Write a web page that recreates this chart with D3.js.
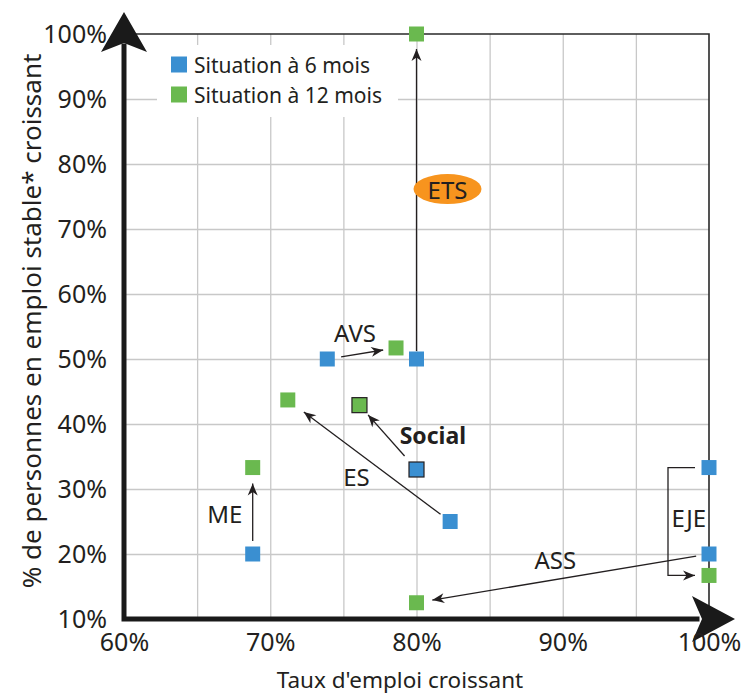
<!DOCTYPE html>
<html><head><meta charset="utf-8">
<script src="https://cdn.jsdelivr.net/npm/d3@7"></script>
<style>
body{margin:0;background:#fff}
text{font-family:"Noto Sans",sans-serif;fill:#231f20}
</style>
</head><body>
<svg id="c" width="744" height="695"></svg>
<script>
// ---- data ----
const categories = ["AVS","ETS","ES","ME","EJE","ASS","Social"];
const x6  = [0.739, 0.800, 0.823, 0.688, 1.000, 1.000, 0.800];
const y6  = [0.500, 0.500, 0.250, 0.200, 0.333, 0.200, 0.330];
const x12 = [0.786, 0.800, 0.712, 0.688, 1.000, 0.800, 0.761];
const y12 = [0.517, 1.000, 0.437, 0.333, 0.167, 0.125, 0.429];
const labelX = [0.758, 0.8212, 0.7589, 0.669, 0.9862, 0.8949, 0.8112];
const labelY = [0.5415, 0.7615, 0.3185, 0.2626, 0.2557, 0.1915, 0.3838];
const seriesNames = ["Situation à 6 mois", "Situation à 12 mois"];
const xTicks = [0.6, 0.7, 0.8, 0.9, 1.0];
const yTicks = [0.1, 0.2, 0.3, 0.4, 0.5, 0.6, 0.7, 0.8, 0.9, 1.0];
const xGrid = [0.65, 0.7, 0.75, 0.8, 0.85, 0.9, 0.95];
const yGrid = [0.2, 0.3, 0.4, 0.5, 0.6, 0.7, 0.8, 0.9];
const xTitle = "Taux d'emploi croissant";
const yTitle = "% de personnes en emploi stable* croissant";

// ---- layout / style ----
const L = 124, R = 709, T = 34, B = 619;
const BLUE = "#3a8fd1", GREEN = "#6ab94f", INK = "#231f20", GRID = "#c8c8c8";
const SZ = 15;
const x = d3.scaleLinear().domain([0.6, 1.0]).range([L, R]);
const y = d3.scaleLinear().domain([0.1, 1.0]).range([B, T]);
const svg = d3.select("#c");
const fmt = d3.format(".0%");

// arrowhead marker
const defs = svg.append("defs");
defs.append("marker").attr("id","ah").attr("markerUnits","userSpaceOnUse")
  .attr("viewBox","-13 -6 14 12").attr("refX",0).attr("refY",0)
  .attr("markerWidth",14).attr("markerHeight",12).attr("orient","auto")
  .append("path").attr("d","M0,0 L-12,-5 L-8.5,0 L-12,5 Z").attr("fill",INK);

// grid
svg.append("g").attr("transform",`translate(0,${B})`)
  .call(d3.axisBottom(x).tickValues(xGrid).tickSize(-(B-T)).tickFormat(""))
  .call(g=>g.select(".domain").remove())
  .call(g=>g.selectAll("line").attr("stroke",GRID).attr("stroke-width",1.3));
svg.append("g").attr("transform",`translate(${L},0)`)
  .call(d3.axisLeft(y).tickValues(yGrid).tickSize(-(R-L)).tickFormat(""))
  .call(g=>g.select(".domain").remove())
  .call(g=>g.selectAll("line").attr("stroke",GRID).attr("stroke-width",1.3));

// legend background (hides gridlines)
svg.append("rect").attr("x",157).attr("y",45).attr("width",241).attr("height",72).attr("fill","#fff");

// top / right border
svg.append("path").attr("d",`M${L},${T}H${R}V${B}`).attr("fill","none")
  .attr("stroke","#2a2a2a").attr("stroke-width",1.6);

// arrows
const gaps = {AVS:[14,13],ETS:[8,15],ES:[12,20],ME:[13,16],ASS:[13,16],Social:[18,13]};
const ag = svg.append("g");
categories.forEach((c,i)=>{
  const sx=x(x6[i]), sy=y(y6[i]), tx=x(x12[i]), ty=y(y12[i]);
  if(c==="EJE"){
    const off=14, bx=x(x6[i])-41;
    ag.append("path").attr("d",`M${sx-off},${sy}H${bx}V${ty}H${tx-off}`)
      .attr("fill","none").attr("stroke",INK).attr("stroke-width",1.3).attr("marker-end","url(#ah)");
    return;
  }
  const g=gaps[c], dx=tx-sx, dy=ty-sy, d=Math.hypot(dx,dy), ux=dx/d, uy=dy/d;
  ag.append("line")
    .attr("x1",sx+ux*g[0]).attr("y1",sy+uy*g[0])
    .attr("x2",tx-ux*g[1]).attr("y2",ty-uy*g[1])
    .attr("stroke",INK).attr("stroke-width",1.3).attr("marker-end","url(#ah)");
});

// ETS ellipse label
const iE = categories.indexOf("ETS");
svg.append("ellipse").attr("cx",x(labelX[iE])).attr("cy",y(labelY[iE]))
  .attr("rx",34).attr("ry",15).attr("fill","#f7941e");

// markers
function squares(xs, ys, color){
  svg.append("g").selectAll("rect").data(categories).join("rect")
    .attr("x",(d,i)=>x(xs[i])-SZ/2).attr("y",(d,i)=>y(ys[i])-SZ/2)
    .attr("width",SZ).attr("height",SZ).attr("fill",color)
    .attr("stroke",d=>d==="Social"?INK:"none").attr("stroke-width",1.2);
}
squares(x6,y6,BLUE);
squares(x12,y12,GREEN);

// annotation labels
svg.append("g").selectAll("text").data(categories).join("text")
  .attr("x",(d,i)=>x(labelX[i])).attr("y",(d,i)=>y(labelY[i]))
  .attr("text-anchor","middle").attr("dominant-baseline","central")
  .attr("font-size",d=>d==="Social"?23:24).attr("font-weight",d=>d==="Social"?"bold":"normal")
  .text(d=>d);

// legend
const lg = svg.append("g");
seriesNames.forEach((s,i)=>{
  lg.append("rect").attr("x",171).attr("y",56.5+i*30).attr("width",16).attr("height",16)
    .attr("fill",i?GREEN:BLUE);
  lg.append("text").attr("x",194).attr("y",65+i*30).attr("dominant-baseline","central")
    .attr("font-size",21).text(s);
});

// thick axes with arrowheads
svg.append("path").attr("d",`M${L},46V${B}H${R-12}`).attr("fill","none")
  .attr("stroke","#1a1a1a").attr("stroke-width",5).attr("stroke-linecap","square");
svg.append("path").attr("d",`M${L},12L${L+23},52L${L},43L${L-23},52Z`).attr("fill","#1a1a1a");
svg.append("path").attr("d",`M735,${B}L692,${B-23}L702,${B}L692,${B+23}Z`).attr("fill","#1a1a1a");

// tick labels
svg.append("g").attr("transform",`translate(${L},0)`)
  .call(d3.axisLeft(y).tickValues(yTicks).tickFormat(fmt).tickSize(0).tickPadding(17))
  .call(g=>g.select(".domain").remove())
  .call(g=>g.selectAll("text").attr("font-size",25).attr("font-family","Noto Sans").attr("fill",INK));
svg.append("g").attr("transform",`translate(0,${B})`)
  .call(d3.axisBottom(x).tickValues(xTicks).tickFormat(fmt).tickSize(0).tickPadding(14))
  .call(g=>g.select(".domain").remove())
  .call(g=>g.selectAll("text").attr("font-size",25).attr("font-family","Noto Sans").attr("fill",INK));

// axis titles
svg.append("text").attr("x",400).attr("y",688).attr("text-anchor","middle")
  .attr("font-size",22.5).text(xTitle);
svg.append("text").attr("transform","translate(41,321) rotate(-90)").attr("text-anchor","middle")
  .attr("font-size",26).text(yTitle);
</script>
</body></html>
